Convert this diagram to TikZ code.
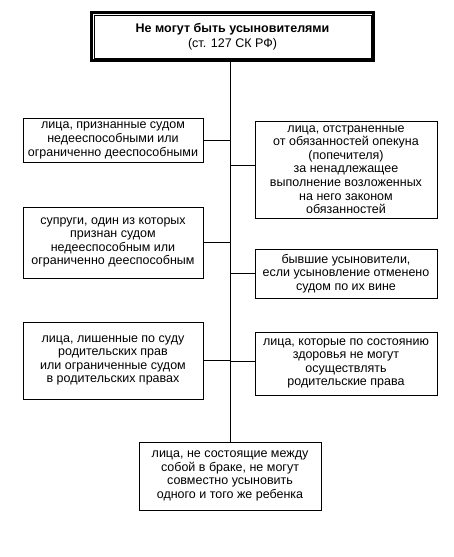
\documentclass[tikz,border=0pt]{standalone}
\usepackage{fontspec}
\setmainfont{Liberation Sans}
\begin{document}
\begin{tikzpicture}[x=1pt,y=-1pt,line width=0.8pt]\tikzstyle{every node}=[rectangle,draw,align=center,inner sep=1pt,font=\fontsize{12.5}{13.6}\selectfont]
\useasboundingbox (0,0) rectangle (454,557);
\node[line width=3pt,minimum width=282pt,minimum height=48pt,font=\fontsize{12.5}{15}\selectfont] at (232.5,36.5) (t) {\textbf{Не могут быть усыновителями}\\(ст. 127 СК РФ)};
\node[minimum width=180pt,minimum height=44pt] at (113,140.5) (lg) {лица, признанные судом\\недееспособными или\\ограниченно дееспособными};
\node[minimum width=182pt,minimum height=97pt] at (346,169.5) (ld) {лица, отстраненные\\от обязанностей опекуна\\(попечителя)\\за ненадлежащее\\выполнение возложенных\\на него законом\\обязанностей};
\node[minimum width=180pt,minimum height=71pt] at (113,242.5) (sg) {супруги, один из которых\\признан судом\\недееспособным или\\ограниченно дееспособным};
\node[minimum width=182pt,minimum height=49pt] at (346,273.5) (bd) {бывшие усыновители,\\если усыновление отменено\\судом по их вине};
\node[minimum width=180pt,minimum height=77pt] at (113,360.5) (pg) {лица, лишенные по суду\\родительских прав\\или ограниченные судом\\в родительских правах};
\node[minimum width=182pt,minimum height=63pt] at (346,363.5) (zd) {лица, которые по состоянию\\здоровья не могут\\осуществлять\\родительские права};
\node[minimum width=182pt,minimum height=68pt] at (230,476) (nb) {лица, не состоящие между\\собой в браке, не могут\\совместно усыновить\\одного и того же ребенка};
\draw ([shift={(4,4)}]t.north west) rectangle ([shift={(-4,-4)}]t.south east);
\draw (t.south -| nb.north) -- (nb.north)
      (lg.east) -- (lg.east -| nb.north)
      ([yshift=4.5pt]ld.west) -- ([yshift=4.5pt]ld.west -| nb.north)
      (sg.east) -- (sg.east -| nb.north)
      (bd.west) -- (bd.west -| nb.north)
      (pg.east) -- (pg.east -| nb.north)
      ([yshift=2.5pt]zd.west) -- ([yshift=2.5pt]zd.west -| nb.north);
\end{tikzpicture}
\end{document}
